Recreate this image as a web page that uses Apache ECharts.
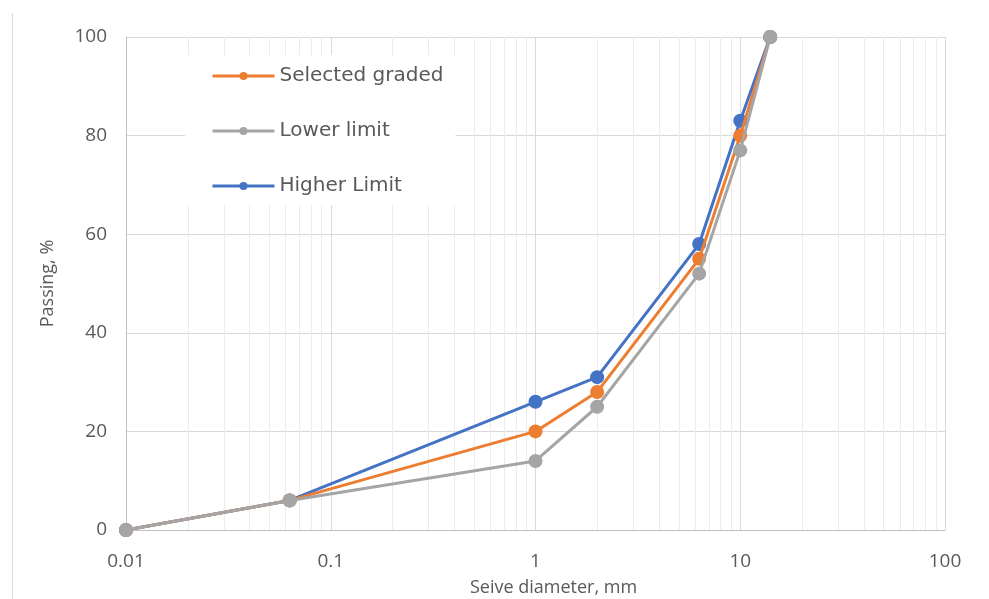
<!DOCTYPE html>
<html>
<head>
<meta charset="utf-8">
<script src="https://cdn.jsdelivr.net/npm/echarts@6/dist/echarts.min.js"></script>
<style>html,body{margin:0;padding:0;background:#fff}#c{width:989px;height:599px}</style>
</head>
<body>
<div id="c"></div>
<script>
const sieveSizes = [0.01, 0.063, 1, 2, 6.3, 10, 14];
const selectedGraded = [0, 6, 20, 28, 55, 80, 100];
const lowerLimit = [0, 6, 14, 25, 52, 77, 100];
const higherLimit = [0, 6, 26, 31, 58, 83, 100];
const seriesNames = ['Selected graded', 'Lower limit', 'Higher Limit'];
const xTickLabels = ['0.01', '0.1', '1', '10', '100'];

const minorValues = [];
[0.01, 0.1, 1, 10].forEach(d => { for (let k = 2; k <= 9; k++) minorValues.push(+(d * k).toPrecision(3)); });

const pairs = arr => sieveSizes.map((x, i) => [x, arr[i]]);
const FONT = '"Open Sans", "Noto Sans", sans-serif';

const chart = echarts.init(document.getElementById('c'), null, {renderer: 'canvas'});
function mkLine(name, data, color, z) {
  return {
    name, type: 'line', data: pairs(data), z,
    symbol: 'circle', symbolSize: 14,
    lineStyle: {color, width: 3}, itemStyle: {color},
    emphasis: {disabled: true}, animation: false
  };
}
chart.setOption({
  animation: false,
  textStyle: {fontFamily: FONT},
  grid: {left: 126, right: 44, top: 37, bottom: 69, outerBoundsMode: 'none', containLabel: false},
  graphic: [{type: 'line', shape: {x1: 12.5, y1: 13, x2: 12.5, y2: 599}, style: {stroke: '#d9d9d9', lineWidth: 1}}],
  legend: {
    orient: 'vertical', left: 185, top: 55,
    padding: [11, 12, 9, 26],
    backgroundColor: '#ffffff',
    itemWidth: 62, itemHeight: 10, itemGap: 35,
    data: seriesNames,
    lineStyle: {width: 3},
    textStyle: {fontSize: 20, color: '#595959', lineHeight: 20, fontFamily: '"DejaVu Sans", sans-serif'}
  },
  xAxis: {
    type: 'log', logBase: 10, min: 0.01, max: 100,
    name: 'Seive diameter, mm', nameLocation: 'middle', nameGap: 49,
    nameTextStyle: {fontSize: 18, color: '#595959', padding: [0, 0, 0, 36]},
    axisLine: {show: true, lineStyle: {color: '#bfbfbf', width: 1}},
    axisTick: {show: false},
    axisLabel: {fontSize: 19, color: '#595959', margin: 22,
      formatter: v => { const s = +v.toPrecision(3); return xTickLabels.includes(String(s)) ? String(s) : ''; }},
    splitLine: {show: true, lineStyle: {color: '#d9d9d9', width: 1}}
  },
  yAxis: {
    type: 'value', min: 0, max: 100, interval: 20,
    name: 'Passing, %', nameLocation: 'middle', nameGap: 69,
    nameTextStyle: {fontSize: 18, color: '#595959'},
    axisLine: {show: true, lineStyle: {color: '#bfbfbf', width: 1}},
    axisTick: {show: false},
    axisLabel: {fontSize: 19, color: '#595959', margin: 19},
    splitLine: {show: true, lineStyle: {color: '#d9d9d9', width: 1}}
  },
  series: [
    mkLine(seriesNames[0], selectedGraded, '#ED7D31', 3),
    mkLine(seriesNames[1], lowerLimit, '#A5A5A5', 4),
    mkLine(seriesNames[2], higherLimit, '#4472C4', 2),
    {
      type: 'custom', name: 'minor', z: 1, silent: true, animation: false,
      data: minorValues.map(v => [v]),
      renderItem: (params, api) => {
        const p1 = api.coord([api.value(0), 0]);
        const p2 = api.coord([api.value(0), 100]);
        const x = Math.round(p1[0]) + 0.5;
        return {type: 'line', shape: {x1: x, y1: p1[1], x2: x, y2: p2[1]},
          style: {stroke: '#ececec', lineWidth: 1}};
      }
    }
  ]
});
</script>
</body>
</html>
